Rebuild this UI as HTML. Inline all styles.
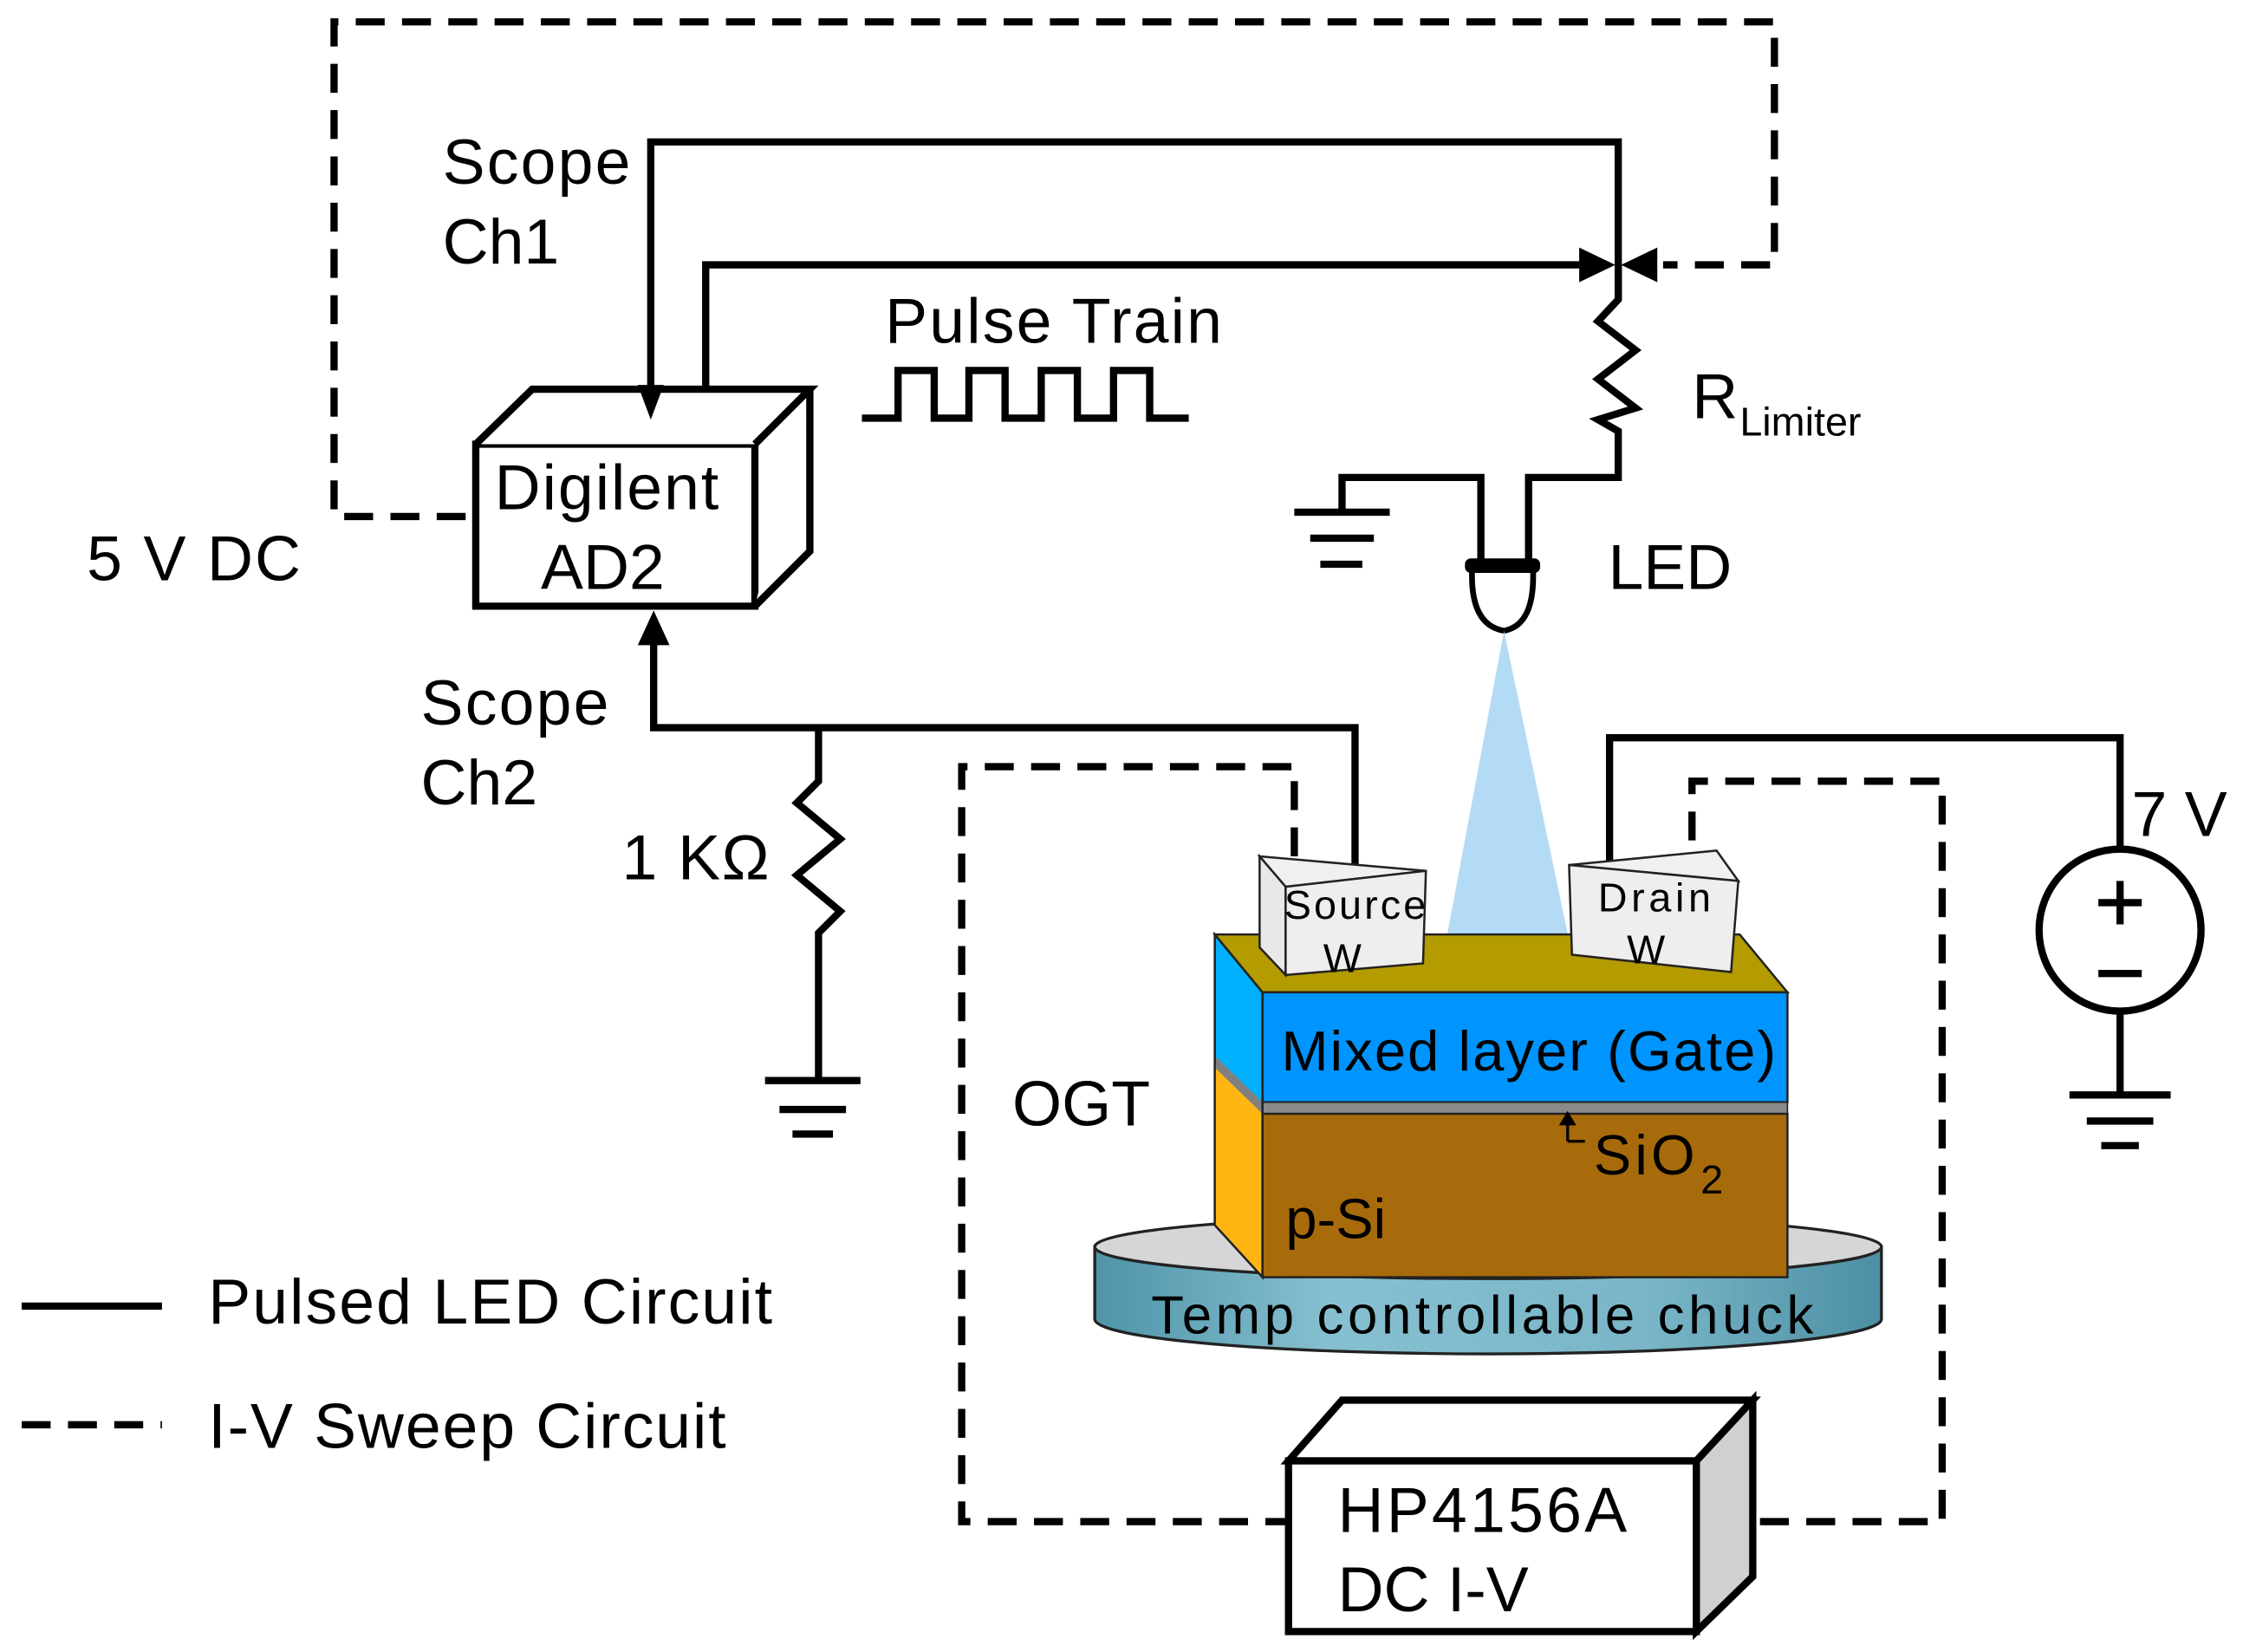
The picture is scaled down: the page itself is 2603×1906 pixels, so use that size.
<!DOCTYPE html>
<html><head><meta charset="utf-8"><style>
html,body{margin:0;padding:0;background:#fff}
svg{display:block}
text{font-family:"Liberation Sans",Arial,sans-serif;fill:#000}
</style></head><body>
<svg width="2603" height="1906" viewBox="0 0 1560 1142" xmlns="http://www.w3.org/2000/svg">
<defs>
<linearGradient id="band" x1="0" x2="1" y1="0" y2="0">
<stop offset="0" stop-color="#4f94a8"/><stop offset="0.3" stop-color="#86c0d0"/><stop offset="0.7" stop-color="#7ab6c8"/><stop offset="1" stop-color="#4c8fa3"/>
</linearGradient>
</defs>
<g fill="none" stroke="#000" stroke-width="5" stroke-linejoin="miter">
<path d="M322,357 H231 V15 H1227 V183 H1150" stroke-dasharray="20 12"/>
<path d="M450,270 V98 H1119 V207"/>
<path d="M488,272 V183 H1092"/>
<path d="M1119,183 V207 L1105,222 L1131,242 L1105,262 L1131,282 L1105,290 L1119,298 V330 H1057 V388"/>
<path d="M1024,388 V330 H928 V354"/>
<path d="M895,354 H961 M906,372 H950 M913,390 H942"/>
<path d="M596,289 H621 V256 H646 V289 H670 V256 H695 V289 H720 V256 H745 V289 H770 V256 H795 V289 H822"/>
<path d="M329,307 H522 V419 H329 Z" fill="#fff"/>
<path d="M329,307 L368,269 H560 L522,307 M560,269 V381 L522,419" fill="#fff"/>
<path d="M452,440 V503 H937 V598"/>
<path d="M566,503 V540 L551,555 L581,580 L551,605 L581,630 L566,645 V747"/>
<path d="M529,747 H595 M539,767 H585 M548,784 H576"/>
<path d="M1113,600 V510 H1466 V587"/>
<circle cx="1466" cy="643" r="56" fill="#fff"/>
<path d="M1451,624 H1481 M1466,609 V639 M1451,673 H1481"/>
<path d="M1466,699 V757 M1431,757 H1501 M1443,775 H1489 M1453,792 H1479"/>
<path d="M895,592 V530 H665 V1052 H893" stroke-dasharray="20 12"/>
<path d="M1217,1052 H1343 V540 H1170 V592" stroke-dasharray="20 12"/>
<path d="M15,903 H112"/>
<path d="M15,985 H112" stroke-dasharray="20 12"/>
</g>
<polygon points="441,266 459,266 450,290" fill="#000"/>
<polygon points="441,446 463,446 452,422" fill="#000"/>
<polygon points="1092,171 1092,195 1117,183" fill="#000"/>
<polygon points="1146,171 1146,195 1121,183" fill="#000"/>
<path d="M1018,392 Q1016,432 1040,436 Q1062,432 1060,392" fill="#fff" stroke="#000" stroke-width="4"/>
<rect x="1013" y="386" width="52" height="10" rx="4" fill="#000"/>
<polygon points="1040,436 1000,650 1085,650" fill="#b4dbf5"/>
<path d="M757,862 V912 A272,24 0 0 0 1301,912 V862 Z" fill="url(#band)" stroke="#222" stroke-width="2"/>
<ellipse cx="1029" cy="862" rx="272" ry="22" fill="#d6d6d6" stroke="#222" stroke-width="2"/>
<polygon points="840,646 873,686 873,883 840,847" fill="#ffb612"/>
<polygon points="840,646 873,686 873,762 840,730" fill="#00b0ff"/>
<polygon points="840,730 873,762 873,770 840,738" fill="#808080"/>
<polygon points="840,646 1203,646 1236,686 873,686" fill="#b39b00" stroke="#222" stroke-width="1.5"/>
<rect x="873" y="686" width="363" height="76" fill="#0094ff" stroke="#222" stroke-width="1.5"/>
<rect x="873" y="762" width="363" height="8" fill="#8a8a8a" stroke="#222" stroke-width="1"/>
<rect x="873" y="770" width="363" height="113" fill="#a86b0b" stroke="#222" stroke-width="1.5"/>
<polygon points="840,646 873,686 873,883 840,847" fill="none" stroke="#222" stroke-width="1.5"/>
<polygon points="871,592 986,602 889,613" fill="#f0f0f0" stroke="#222" stroke-width="1.5"/>
<polygon points="871,592 889,613 889,674 871,655" fill="#e8e8e8" stroke="#222" stroke-width="1.5"/>
<polygon points="889,613 986,602 984,666 889,674" fill="#eeeeee" stroke="#222" stroke-width="1.5"/>
<polygon points="1085,598 1187,588 1202,609" fill="#f0f0f0" stroke="#222" stroke-width="1.5"/>
<polygon points="1085,598 1202,609 1197,672 1087,660" fill="#eeeeee" stroke="#222" stroke-width="1.5"/>
<path d="M1084,789 V776 M1084,789 H1096" stroke="#000" stroke-width="2" fill="none"/>
<polygon points="1078,778 1090,778 1084,768" fill="#000"/>
<g fill="#fff" stroke="#000" stroke-width="5">
<polygon points="891,1010 928,968 1212,968 1173,1010"/>
<polygon points="1173,1010 1212,968 1212,1090 1173,1128" fill="#d0d0d0"/>
<rect x="891" y="1010" width="282" height="118"/>
</g>
<g font-size="44">
<text x="306" y="127" textLength="130">Scope</text>
<text x="306" y="182">Ch1</text>
<text x="612" y="237" textLength="233">Pulse Train</text>
<text x="342" y="352" textLength="155">Digilent</text>
<text x="374" y="407">AD2</text>
<text x="60" y="401" textLength="148">5 V DC</text>
<text x="291" y="501" textLength="130">Scope</text>
<text x="291" y="556">Ch2</text>
<text x="430" y="608" textLength="102">1 KΩ</text>
<text x="1170" y="289">R</text>
<text x="1203" y="301" font-size="28">Limiter</text>
<text x="1112" y="407">LED</text>
<text x="1474" y="578">7 V</text>
<text x="700" y="778">OGT</text>
<text x="925" y="1059" textLength="200">HP4156A</text>
<text x="925" y="1114">DC I-V</text>
<text x="144" y="915" textLength="390">Pulsed LED Circuit</text>
<text x="144" y="1001" textLength="358">I-V Sweep Circuit</text>
</g>
<text x="888" y="635" font-size="28" textLength="98">Source</text>
<text x="915" y="672" font-size="28">W</text>
<text x="1105" y="630" font-size="28" textLength="78">Drain</text>
<text x="1125" y="666" font-size="28">W</text>
<text x="886" y="740" font-size="39" textLength="342">Mixed layer (Gate)</text>
<text x="1102" y="812" font-size="39" textLength="70">SiO</text>
<text x="1176" y="825" font-size="28">2</text>
<text x="889" y="856" font-size="39">p-Si</text>
<text x="796" y="922" font-size="37" textLength="458">Temp controllable chuck</text>
</svg>
</body></html>
